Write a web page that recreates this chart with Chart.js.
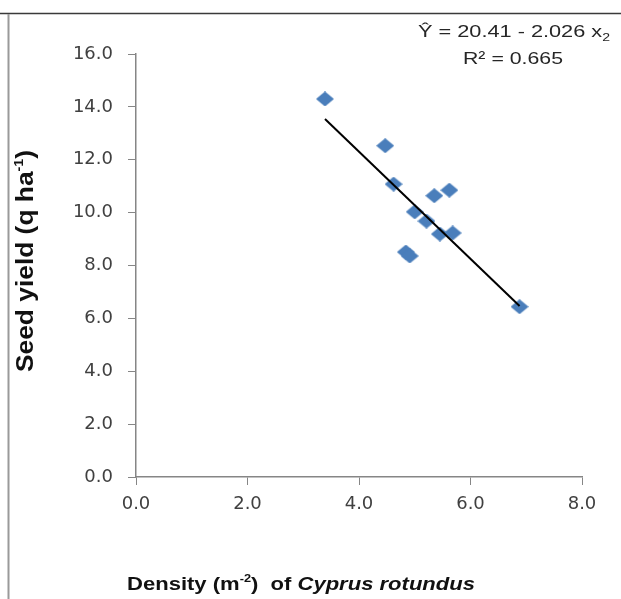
<!DOCTYPE html>
<html>
<head>
<meta charset="utf-8">
<script src="https://cdn.jsdelivr.net/npm/chart.js@4.4.1/dist/chart.umd.min.js"></script>
<style>
  body { margin: 0; background: #fff; }
  #wrap { position: relative; width: 621px; height: 599px; }
</style>
</head>
<body>
<div id="wrap"><canvas id="yieldChart" width="621" height="599"></canvas></div>
<script>
// density of Cyprus rotundus (m-2) vs seed yield (q/ha)
const densityValues = [3.39, 4.47, 4.62, 5.35, 5.62, 5.00, 5.21, 5.45, 5.68, 4.84, 4.91, 6.88];
const yieldValues = [14.30, 12.53, 11.08, 10.64, 10.85, 10.03, 9.68, 9.19, 9.23, 8.51, 8.36, 6.44];
const xTicks = [0, 2, 4, 6, 8];
const yTicks = [0, 2, 4, 6, 8, 10, 12, 14, 16];
const trendIntercept = 20.41;
const trendSlope = -2.026;

const points = densityValues.map((x, i) => ({ x: x, y: yieldValues[i] }));
const xMin = Math.min(...densityValues);
const xMax = Math.max(...densityValues);
const trendPoints = [xMin, xMax].map(x => ({ x: x, y: trendIntercept + trendSlope * x }));

// diamond marker, a bit wider than tall like the original
const diamond = document.createElement('canvas');
diamond.width = 18;
diamond.height = 15;
const g = diamond.getContext('2d');
g.fillStyle = '#4A7EBB';
g.beginPath();
g.moveTo(9, 0);
g.lineTo(18, 7.5);
g.lineTo(9, 15);
g.lineTo(0, 7.5);
g.closePath();
g.fill();

// draw a list of text runs squeezed/stretched to a given width
function drawRuns(ctx, runs, x, y, width) {
  let total = 0;
  runs.forEach(r => {
    ctx.font = r.font;
    r.w = ctx.measureText(r.text).width;
    total += r.w;
  });
  ctx.save();
  ctx.translate(x, y);
  ctx.scale(width / total, 1);
  let cx = 0;
  runs.forEach(r => {
    ctx.font = r.font;
    ctx.fillText(r.text, cx, r.dy || 0);
    cx += r.w;
  });
  ctx.restore();
}

const textPlugin = {
  id: 'texts',
  beforeDraw(chart) {
    const ctx = chart.ctx;
    ctx.save();
    ctx.fillStyle = '#fff';
    ctx.fillRect(0, 0, chart.width, chart.height);
    ctx.strokeStyle = '#3a3a3a';
    ctx.lineWidth = 1.5;
    ctx.beginPath();
    ctx.moveTo(0, 13.5);
    ctx.lineTo(chart.width, 13.5);
    ctx.stroke();
    ctx.strokeStyle = '#9a9a9a';
    ctx.lineWidth = 2;
    ctx.beginPath();
    ctx.moveTo(8.5, 14);
    ctx.lineTo(8.5, chart.height);
    ctx.stroke();
    ctx.restore();
  },
  afterDraw(chart) {
    const ctx = chart.ctx;
    ctx.save();
    ctx.textAlign = 'left';
    ctx.textBaseline = 'alphabetic';
    ctx.fillStyle = '#262626';
    const eq = '17px "Liberation Sans"';
    drawRuns(ctx, [
      { text: 'Ŷ = 20.41 - 2.026 x', font: eq },
      { text: '2', font: '11px "Liberation Sans"', dy: 4 }
    ], 418, 37, 192);
    drawRuns(ctx, [{ text: 'R² = 0.665', font: eq }], 463, 64, 100);

    ctx.fillStyle = '#111';
    const xb = 'bold 19px "Liberation Sans"';
    drawRuns(ctx, [
      { text: 'Density (m', font: xb },
      { text: '-2', font: 'bold 11px "Liberation Sans"', dy: -8 },
      { text: ')  of ', font: xb },
      { text: 'Cyprus rotundus', font: 'italic bold 19px "Liberation Sans"' }
    ], 127, 590, 348);

    ctx.translate(33, 372);
    ctx.rotate(-Math.PI / 2);
    const yb = 'bold 24px "Liberation Sans"';
    drawRuns(ctx, [
      { text: 'Seed yield (q ha', font: yb },
      { text: '-1', font: 'bold 13px "Liberation Sans"', dy: -10 },
      { text: ')', font: yb }
    ], 0, 0, 222);
    ctx.restore();
  }
};

const axisColor = '#868686';
const tickFont = { family: 'DejaVu Sans', size: 18 };

new Chart(document.getElementById('yieldChart'), {
  type: 'scatter',
  data: {
    datasets: [
      {
        data: trendPoints,
        showLine: true,
        borderColor: '#000',
        borderWidth: 2,
        pointRadius: 0
      },
      {
        data: points,
        pointStyle: diamond,
        pointRadius: 8
      }
    ]
  },
  options: {
    responsive: false,
    animation: false,
    layout: { padding: { top: 54, right: 39, left: 0, bottom: 0 } },
    plugins: { legend: { display: false }, tooltip: { enabled: false } },
    scales: {
      x: {
        type: 'linear',
        min: 0,
        max: 8,
        afterBuildTicks: s => { s.ticks = xTicks.map(v => ({ value: v })); },
        afterFit: s => { s.height = 122; },
        grid: { drawOnChartArea: false, tickLength: 8, color: axisColor },
        border: { color: axisColor, width: 1.5 },
        ticks: { font: tickFont, color: '#404040', padding: 9, callback: v => v.toFixed(1) }
      },
      y: {
        min: 0,
        max: 16,
        afterBuildTicks: s => { s.ticks = yTicks.map(v => ({ value: v })); },
        afterFit: s => { s.width = 136; },
        grid: { drawOnChartArea: false, tickLength: 8, color: axisColor },
        border: { color: axisColor, width: 1.5 },
        ticks: { font: tickFont, color: '#404040', padding: 15, callback: v => v.toFixed(1) }
      }
    }
  },
  plugins: [textPlugin]
});
</script>
</body>
</html>
